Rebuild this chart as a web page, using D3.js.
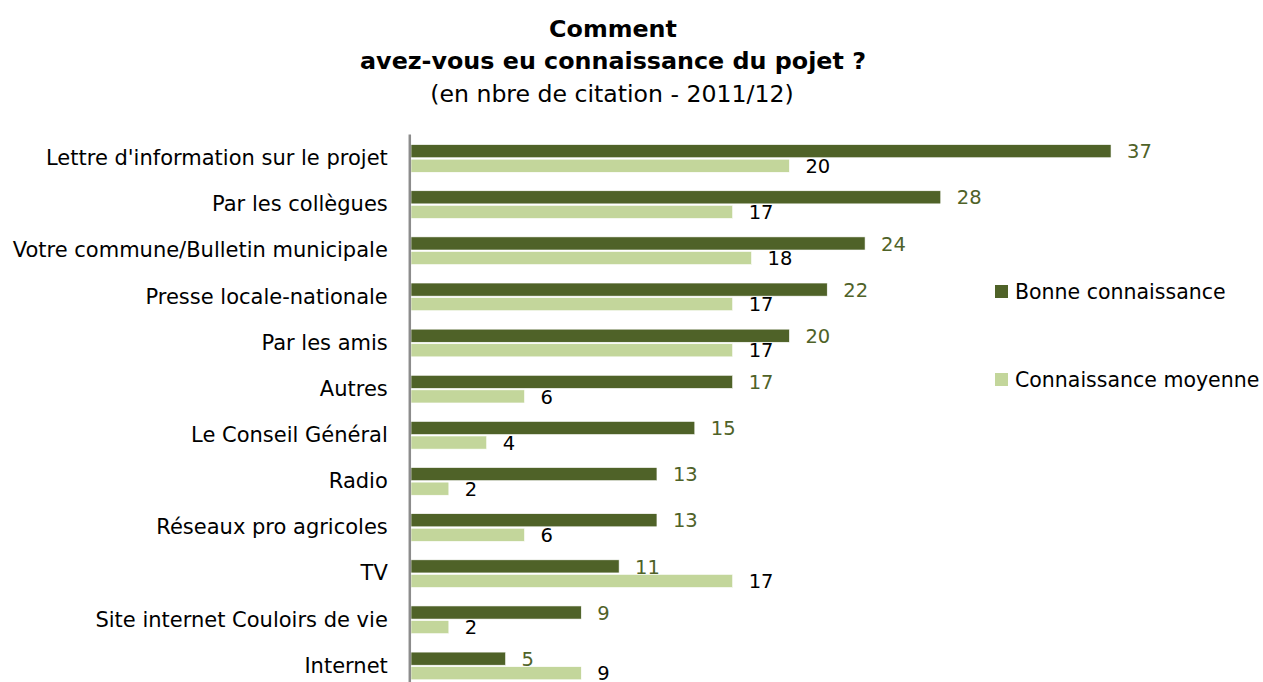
<!DOCTYPE html>
<html>
<head>
<meta charset="utf-8">
<script src="https://cdn.jsdelivr.net/npm/d3@7"></script>
<style>
  html, body { margin: 0; padding: 0; background: #ffffff; }
  svg { display: block; }
  text { font-family: "DejaVu Sans", Verdana, sans-serif; }
</style>
</head>
<body>
<svg id="chart" width="1263" height="682"></svg>
<script>
// Sources of awareness of the project, number of citations per level of knowledge
const categories = [
  "Lettre d'information sur le projet",
  "Par les collègues",
  "Votre commune/Bulletin municipale",
  "Presse locale-nationale",
  "Par les amis",
  "Autres",
  "Le Conseil Général",
  "Radio",
  "Réseaux pro agricoles",
  "TV",
  "Site internet Couloirs de vie",
  "Internet"
];
const seriesNames = ["Bonne connaissance", "Connaissance moyenne"];
const bonne   = [37, 28, 24, 22, 20, 17, 15, 13, 13, 11, 9, 5];
const moyenne = [20, 17, 18, 17, 17, 6, 4, 2, 6, 17, 2, 9];
const colors = ["#4f6228", "#c3d69b"];
const labelColors = ["#4f6228", "#000000"];

const svg = d3.select("#chart");

// Titles
svg.append("text").attr("x", 613).attr("y", 37).attr("text-anchor", "middle")
  .attr("font-size", 23.8).attr("font-weight", "bold").text("Comment");
svg.append("text").attr("x", 613).attr("y", 69).attr("text-anchor", "middle")
  .attr("font-size", 23.8).attr("font-weight", "bold").text("avez-vous eu connaissance du pojet ?");
svg.append("text").attr("x", 612).attr("y", 102).attr("text-anchor", "middle")
  .attr("font-size", 23.6).text("(en nbre de citation - 2011/12)");

// Scales
const x = d3.scaleLinear().domain([0, 40]).range([411, 411 + 40 * 18.92]);
const y = d3.scaleBand().domain(categories).range([135.4, 689])
  .paddingInner(0.4).paddingOuter(0.2);
const ySub = d3.scaleBand().domain(seriesNames).range([0, y.bandwidth()]).paddingInner(0.1);

const rows = categories.map((c, i) => ({ cat: c, vals: [bonne[i], moyenne[i]] }));

const groups = svg.append("g").selectAll("g")
  .data(rows).join("g")
  .attr("transform", d => `translate(0,${y(d.cat)})`);

groups.selectAll("rect")
  .data(d => d.vals.map((v, k) => ({ v, k })))
  .join("rect")
  .attr("x", x(0))
  .attr("y", d => ySub(seriesNames[d.k]))
  .attr("width", d => x(d.v) - x(0))
  .attr("height", ySub.bandwidth())
  .attr("fill", d => colors[d.k])
  .attr("stroke", "#ffffff")
  .attr("stroke-width", 0.6);

groups.selectAll("text.val")
  .data(d => d.vals.map((v, k) => ({ v, k })))
  .join("text")
  .attr("class", "val")
  .attr("x", d => x(d.v) + 16)
  .attr("y", d => ySub(seriesNames[d.k]) + ySub.bandwidth() / 2 + 0.3)
  .attr("dy", "0.35em")
  .attr("font-size", 19.5)
  .attr("fill", d => labelColors[d.k])
  .text(d => d.v);

// Category axis on the left
const yAxis = svg.append("g")
  .attr("transform", `translate(${x(0) - 1.2},0)`)
  .call(d3.axisLeft(y).tickSize(0).tickPadding(22));
yAxis.select(".domain").attr("stroke", "#8c8c8c").attr("stroke-width", 2.5)
  .attr("d", `M0,134.5V${y.range()[1]}`);
yAxis.selectAll(".tick text")
  .attr("font-size", 21)
  .attr("fill", "#000")
  .attr("font-family", "\"DejaVu Sans\", Verdana, sans-serif");

// Legend
const legendY = [292, 380];
const legend = svg.append("g").selectAll("g")
  .data(seriesNames).join("g")
  .attr("transform", (d, i) => `translate(995,${legendY[i]})`);
legend.append("rect").attr("x", 0).attr("y", -7).attr("width", 13).attr("height", 13)
  .attr("fill", (d, i) => colors[i]);
legend.append("text").attr("x", 20).attr("y", 0).attr("dy", "0.35em")
  .attr("font-size", 20.5).attr("fill", "#000").text(d => d);
</script>
</body>
</html>
